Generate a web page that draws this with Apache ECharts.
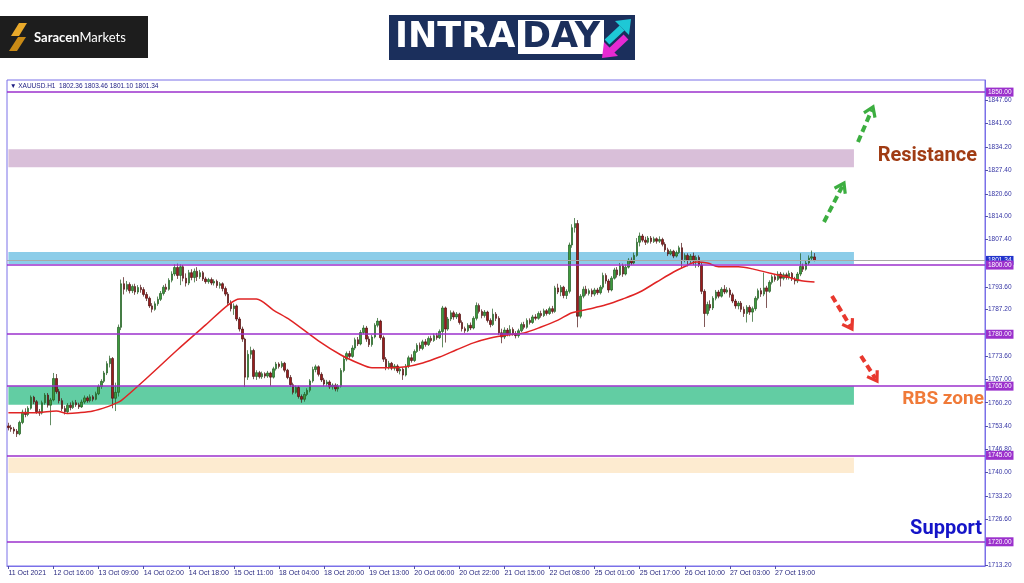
<!DOCTYPE html>
<html><head><meta charset="utf-8">
<script src="https://cdn.jsdelivr.net/npm/echarts@6/dist/echarts.min.js"></script>
<style>html,body{margin:0;padding:0;background:#fff;}#c{width:1024px;height:583px;}</style>
</head><body><div id="c"></div>
<script>
// ---- data ----
const xLabels = ['11 Oct 2021','12 Oct 16:00','13 Oct 09:00','14 Oct 02:00','14 Oct 18:00','15 Oct 11:00','18 Oct 04:00','18 Oct 20:00','19 Oct 13:00','20 Oct 06:00','20 Oct 22:00','21 Oct 15:00','22 Oct 08:00','25 Oct 01:00','25 Oct 17:00','26 Oct 10:00','27 Oct 03:00','27 Oct 19:00'];
const barsPerLabel = 16;
const slotCount = 347;
const yTicks = [1847.6,1841.0,1834.2,1827.4,1820.6,1814.0,1807.4,1793.6,1787.2,1773.6,1767.0,1760.2,1753.4,1746.8,1740.0,1733.2,1726.6,1713.2];
const levels = [1850, 1800, 1780, 1765, 1745, 1720];
const bidPrice = 1801.34;
const zoneRanges = [[1833.5,1828.3],[1803.8,1800.3],[1765.0,1759.6],[1744.3,1739.9]];
const zoneEndIndex = 300;
// [open, close, low, high]
const ohlc = [
[1753.5,1753.0,1752.2,1754.4],[1753.0,1752.6,1751.8,1753.8],[1752.6,1752.0,1751.2,1753.2],[1752.0,1751.2,1750.3,1752.6],[1751.2,1754.5,1750.8,1755.0],
[1754.5,1757.5,1754.0,1758.2],[1757.5,1756.8,1756.0,1758.6],[1756.8,1758.6,1756.3,1759.2],[1758.6,1761.8,1758.2,1762.3],[1761.8,1760.5,1759.8,1762.2],
[1760.5,1757.6,1757.0,1761.0],[1757.6,1757.2,1756.4,1758.4],[1757.2,1760.2,1756.8,1760.8],[1760.2,1762.4,1759.6,1763.0],[1762.4,1759.5,1758.8,1763.0],
[1759.5,1761.0,1753.7,1761.6],[1761.0,1767.2,1760.6,1768.8],[1767.2,1763.4,1762.8,1768.5],[1763.4,1760.8,1760.0,1764.2],[1760.8,1758.5,1757.8,1761.5],
[1758.5,1757.6,1756.8,1759.3],[1757.6,1759.5,1757.2,1760.1],[1759.5,1758.8,1758.0,1760.3],[1758.8,1760.2,1758.4,1760.8],[1760.2,1759.6,1759.0,1761.0],
[1759.6,1759.0,1758.4,1760.2],[1759.0,1760.4,1758.7,1761.1],[1760.4,1761.6,1759.9,1762.3],[1761.6,1760.8,1760.2,1762.1],[1760.8,1761.9,1760.3,1762.6],
[1761.9,1761.2,1760.6,1762.4],[1761.2,1762.8,1760.9,1763.4],[1762.8,1764.9,1762.4,1765.5],[1764.9,1766.4,1764.2,1767.0],[1766.4,1768.8,1765.9,1769.4],
[1768.8,1771.5,1768.2,1772.2],[1771.5,1773.0,1770.4,1773.8],[1773.0,1761.5,1758.6,1773.4],[1761.5,1763.2,1757.8,1766.0],[1763.2,1782.0,1762.0,1782.8],
[1782.0,1794.6,1781.2,1795.8],[1794.6,1793.0,1791.5,1796.5],[1793.0,1794.4,1792.3,1795.4],[1794.4,1792.6,1791.8,1795.0],[1792.6,1793.8,1791.9,1794.4],
[1793.8,1792.2,1791.4,1794.6],[1792.2,1793.5,1791.6,1794.2],[1793.5,1792.9,1792.0,1794.3],[1792.9,1791.5,1790.9,1793.6],[1791.5,1790.4,1789.6,1792.2],
[1790.4,1788.2,1787.6,1790.9],[1788.2,1787.2,1786.3,1789.0],[1787.2,1788.8,1786.8,1789.5],[1788.8,1790.1,1788.2,1790.9],[1790.1,1791.8,1789.6,1792.5],
[1791.8,1793.6,1791.2,1794.2],[1793.6,1793.0,1792.2,1794.6],[1793.0,1795.6,1792.6,1796.2],[1795.6,1797.4,1795.0,1798.2],[1797.4,1799.3,1796.8,1800.2],
[1799.3,1797.0,1796.0,1800.4],[1797.0,1799.5,1794.2,1800.2],[1799.5,1796.2,1795.3,1800.0],[1796.2,1794.8,1793.8,1797.6],[1794.8,1797.8,1794.2,1798.6],
[1797.8,1796.4,1795.6,1798.8],[1796.4,1798.2,1795.0,1799.0],[1798.2,1796.6,1795.4,1799.4],[1796.6,1797.8,1796.0,1798.6],[1797.8,1796.0,1795.4,1798.3],
[1796.0,1795.2,1794.6,1796.6],[1795.2,1795.8,1794.6,1796.3],[1795.8,1794.8,1794.2,1796.4],[1794.8,1795.3,1794.1,1795.9],[1795.3,1794.1,1793.4,1795.8],
[1794.1,1794.6,1793.2,1795.1],[1794.6,1793.2,1792.4,1795.0],[1793.2,1791.6,1791.0,1793.8],[1791.6,1789.0,1788.4,1792.2],[1789.0,1787.4,1786.6,1789.8],
[1787.4,1788.2,1785.6,1788.9],[1788.2,1784.4,1783.8,1788.6],[1784.4,1781.5,1780.8,1785.0],[1781.5,1778.6,1777.8,1782.2],[1778.6,1767.6,1764.8,1779.0],
[1767.6,1774.2,1766.8,1775.4],[1774.2,1775.3,1772.9,1776.4],[1775.3,1767.8,1767.0,1775.8],[1767.8,1768.9,1766.8,1769.6],[1768.9,1767.7,1767.2,1769.4],
[1767.7,1768.6,1767.1,1769.2],[1768.6,1767.9,1767.3,1769.0],[1767.9,1768.8,1767.4,1769.4],[1768.8,1767.6,1765.0,1769.2],[1767.6,1770.0,1767.2,1770.6],
[1770.0,1771.4,1769.5,1772.0],[1771.4,1770.7,1770.1,1771.9],[1770.7,1771.6,1770.2,1772.2],[1771.6,1769.6,1769.0,1772.0],[1769.6,1767.5,1767.0,1770.0],
[1767.5,1765.4,1764.8,1768.2],[1765.4,1763.2,1762.6,1766.0],[1763.2,1764.6,1762.8,1765.2],[1764.6,1762.0,1761.4,1765.1],[1762.0,1761.2,1760.2,1762.6],
[1761.2,1762.6,1760.5,1763.3],[1762.6,1763.8,1762.1,1764.4],[1763.8,1766.5,1763.2,1767.0],[1766.5,1769.8,1766.0,1770.6],[1769.8,1770.6,1769.0,1771.2],
[1770.6,1768.4,1767.8,1771.0],[1768.4,1766.8,1766.2,1769.0],[1766.8,1765.6,1765.0,1767.4],[1765.6,1766.2,1765.0,1766.8],[1766.2,1764.8,1764.2,1766.7],
[1764.8,1765.3,1764.0,1765.8],[1765.3,1764.2,1763.5,1765.8],[1764.2,1765.0,1763.4,1765.6],[1765.0,1769.5,1764.6,1770.2],[1769.5,1772.8,1769.0,1773.4],
[1772.8,1774.4,1772.2,1775.0],[1774.4,1773.6,1773.0,1775.2],[1773.6,1776.0,1773.2,1776.8],[1776.0,1778.4,1775.4,1779.0],[1778.4,1777.2,1776.6,1779.2],
[1777.2,1780.5,1776.8,1781.2],[1780.5,1781.8,1780.0,1782.6],[1781.8,1778.6,1777.8,1782.4],[1778.6,1777.0,1776.3,1779.4],[1777.0,1779.2,1776.4,1779.8],
[1779.2,1782.6,1778.8,1783.2],[1782.6,1783.8,1782.0,1784.7],[1783.8,1779.0,1778.4,1784.2],[1779.0,1772.8,1772.0,1779.6],[1772.8,1770.4,1769.6,1773.4],
[1770.4,1771.6,1769.8,1772.3],[1771.6,1770.2,1769.6,1772.0],[1770.2,1770.8,1769.5,1771.4],[1770.8,1769.4,1768.8,1771.3],[1769.4,1769.9,1768.4,1770.5],
[1769.9,1768.2,1766.8,1770.4],[1768.2,1770.8,1767.8,1771.4],[1770.8,1773.2,1770.2,1773.8],[1773.2,1772.4,1771.8,1774.2],[1772.4,1775.0,1772.0,1775.6],
[1775.0,1776.8,1774.6,1777.4],[1776.8,1775.9,1775.2,1777.6],[1775.9,1777.8,1775.4,1778.4],[1777.8,1777.0,1776.4,1778.6],[1777.0,1778.8,1776.6,1779.4],
[1778.8,1778.2,1777.6,1779.6],[1778.2,1779.6,1777.8,1780.2],[1779.6,1779.0,1778.4,1780.4],[1779.0,1780.8,1778.6,1781.4],[1780.8,1787.6,1776.2,1788.2],
[1787.6,1781.5,1777.6,1788.0],[1781.5,1784.4,1781.0,1785.0],[1784.4,1786.2,1783.8,1786.9],[1786.2,1785.0,1784.2,1786.8],[1785.0,1785.8,1784.4,1786.4],
[1785.8,1783.4,1782.8,1786.2],[1783.4,1781.6,1780.8,1784.0],[1781.6,1781.0,1780.4,1782.2],[1781.0,1782.6,1780.6,1783.2],[1782.6,1781.8,1781.2,1783.4],
[1781.8,1784.6,1781.4,1785.2],[1784.6,1788.3,1784.0,1789.2],[1788.3,1786.6,1786.0,1788.9],[1786.6,1785.4,1784.6,1787.2],[1785.4,1786.4,1784.8,1787.0],
[1786.4,1784.0,1783.4,1786.8],[1784.0,1782.8,1782.0,1784.6],[1782.8,1785.8,1782.4,1787.4],[1785.8,1784.6,1783.8,1786.4],[1784.6,1780.4,1779.8,1785.2],
[1780.4,1779.2,1777.4,1781.6],[1779.2,1781.2,1778.6,1782.0],[1781.2,1780.0,1779.4,1781.8],[1780.0,1781.4,1779.4,1782.6],[1781.4,1780.2,1779.6,1782.0],
[1780.2,1779.6,1778.8,1780.9],[1779.6,1781.0,1779.0,1781.6],[1781.0,1782.8,1780.6,1783.4],[1782.8,1782.0,1781.4,1783.6],[1782.0,1784.0,1781.6,1784.6],
[1784.0,1783.4,1782.8,1784.6],[1783.4,1785.0,1783.0,1785.6],[1785.0,1784.6,1784.0,1785.8],[1784.6,1786.0,1784.2,1786.6],[1786.0,1785.4,1784.8,1786.8],
[1785.4,1786.8,1785.0,1787.4],[1786.8,1786.0,1785.4,1787.3],[1786.0,1787.4,1785.6,1788.0],[1787.4,1786.6,1786.0,1788.2],[1786.6,1793.4,1786.2,1794.0],
[1793.4,1792.2,1791.6,1794.6],[1792.2,1793.6,1791.0,1794.2],[1793.6,1791.2,1790.4,1794.0],[1791.2,1792.4,1790.2,1793.0],[1792.4,1805.8,1791.8,1806.5],
[1805.8,1810.8,1805.0,1811.8],[1810.8,1812.0,1809.4,1813.6],[1812.0,1785.2,1782.0,1813.0],[1785.2,1791.0,1784.6,1791.6],[1791.0,1793.0,1790.4,1793.8],
[1793.0,1791.8,1791.2,1794.0],[1791.8,1792.6,1791.2,1793.2],[1792.6,1791.6,1790.8,1793.2],[1791.6,1792.8,1791.0,1793.4],[1792.8,1792.0,1791.4,1793.4],
[1792.0,1793.6,1791.5,1794.2],[1793.6,1797.0,1793.0,1797.8],[1797.0,1795.4,1794.6,1797.6],[1795.4,1792.8,1792.0,1796.0],[1792.8,1796.2,1792.4,1796.8],
[1796.2,1798.6,1795.8,1799.2],[1798.6,1797.2,1796.4,1799.4],[1797.2,1799.8,1796.8,1800.6],[1799.8,1797.4,1796.6,1800.4],[1797.4,1799.4,1797.0,1800.2],
[1799.4,1801.4,1799.0,1802.0],[1801.4,1800.6,1800.0,1802.2],[1800.6,1802.8,1800.2,1803.6],[1802.8,1806.6,1802.4,1807.8],[1806.6,1808.4,1805.4,1809.4],
[1808.4,1807.2,1806.6,1809.0],[1807.2,1806.6,1805.8,1808.2],[1806.6,1807.8,1806.2,1808.4],[1807.8,1806.8,1806.2,1808.4],[1806.8,1807.6,1806.4,1808.2],
[1807.6,1806.9,1806.2,1808.0],[1806.9,1807.4,1806.4,1808.3],[1807.4,1806.0,1805.4,1807.9],[1806.0,1804.4,1803.8,1806.6],[1804.4,1803.2,1802.6,1805.0],
[1803.2,1804.0,1802.8,1804.6],[1804.0,1802.6,1802.0,1804.4],[1802.6,1803.6,1802.2,1804.2],[1803.6,1805.0,1803.2,1805.6],[1805.0,1801.6,1799.2,1806.4],
[1801.6,1802.8,1800.8,1803.4],[1802.8,1801.4,1799.6,1803.4],[1801.4,1802.6,1800.6,1803.2],[1802.6,1801.2,1800.0,1803.6],[1801.2,1802.2,1799.2,1802.8],
[1802.2,1800.0,1799.4,1802.8],[1800.0,1792.4,1791.6,1800.8],[1792.4,1786.0,1782.1,1793.0],[1786.0,1788.6,1785.4,1789.4],[1788.6,1787.6,1786.8,1789.8],
[1787.6,1790.4,1787.0,1791.0],[1790.4,1792.2,1789.8,1792.8],[1792.2,1791.0,1790.4,1792.8],[1791.0,1793.0,1790.6,1793.6],[1793.0,1792.2,1791.6,1794.2],
[1792.2,1792.8,1791.8,1793.6],[1792.8,1791.4,1790.6,1793.4],[1791.4,1789.6,1789.0,1792.0],[1789.6,1788.2,1787.4,1790.2],[1788.2,1789.0,1787.2,1789.6],
[1789.0,1787.2,1786.4,1789.6],[1787.2,1786.0,1785.0,1788.0],[1786.0,1787.8,1783.4,1788.4],[1787.8,1786.4,1785.6,1788.4],[1786.4,1787.4,1783.6,1788.0],
[1787.4,1790.4,1786.8,1791.0],[1790.4,1792.6,1789.8,1793.2],[1792.6,1791.6,1790.8,1793.4],[1791.6,1793.4,1791.0,1797.8],[1793.4,1792.4,1787.6,1794.0],
[1792.4,1795.0,1792.0,1795.6],[1795.0,1796.6,1794.4,1797.2],[1796.6,1795.8,1795.2,1797.4],[1795.8,1797.4,1795.4,1798.2],[1797.4,1796.2,1793.8,1798.0],
[1796.2,1797.2,1795.6,1797.8],[1797.2,1796.4,1795.8,1797.8],[1796.4,1797.6,1795.8,1798.4],[1797.6,1796.0,1795.4,1798.0],[1796.0,1795.4,1794.4,1796.6],
[1795.4,1797.4,1794.8,1798.0],[1797.4,1799.6,1796.8,1803.4],[1799.6,1798.8,1798.0,1800.4],[1798.8,1800.6,1798.4,1801.2],[1800.6,1802.0,1800.0,1802.8],
[1802.0,1802.4,1801.2,1804.2],[1802.36,1801.34,1801.10,1803.46]
];
// moving average read at sample bars: [barIndex, value]
const maPoints = [[0,1757.3],[4,1757.3],[11,1757.4],[17,1757.8],[21,1757.1],[25,1757.3],[30,1757.8],[35,1759.0],[38,1760.0],[40,1760.8],[50,1768.0],[60,1775.5],[70,1782.7],[78,1788.5],[82,1790.2],[88,1790.2],[94,1787.0],[100,1784.1],[110,1778.1],[118,1774.0],[124,1771.7],[129,1770.3],[135,1770.3],[141,1770.6],[147,1771.7],[153,1773.4],[159,1775.5],[165,1777.5],[171,1778.9],[177,1779.8],[183,1780.4],[189,1782.1],[195,1784.1],[200,1786.2],[206,1787.3],[212,1788.5],[218,1790.2],[224,1792.2],[230,1795.1],[236,1798.0],[240,1799.6],[244,1800.9],[248,1800.6],[252,1799.5],[259,1799.5],[264,1798.9],[270,1797.7],[276,1796.6],[282,1795.4],[286,1795.1]];

// ---- chart ----
const categories = Array.from({length: slotCount}, (_, i) => String(i));
const zoneColors = ['#d9bfd9', '#8ccde9', '#62cda3', '#fdebd0'];
const frameColor = '#7a70e8';
const levelColor = '#9b30cc';
const isLabelIdx = (i) => i % barsPerLabel === 0 && (i / barsPerLabel) < xLabels.length;

const chart = echarts.init(document.getElementById('c'), null, {renderer: 'canvas'});

function chevron(tip, from, len, half) {
  const dx = tip[0] - from[0], dy = tip[1] - from[1];
  const d = Math.hypot(dx, dy), ux = dx / d, uy = dy / d;
  const bx = tip[0] - len * ux, by = tip[1] - len * uy;
  return [[bx - half * uy, by + half * ux], tip, [bx + half * uy, by - half * ux]];
}
function arrow(from, tip, color) {
  const dx = tip[0] - from[0], dy = tip[1] - from[1];
  const d = Math.hypot(dx, dy);
  const end = [tip[0] - 3 * dx / d, tip[1] - 3 * dy / d];
  return [
    {type: 'polyline', shape: {points: [from, end]}, style: {stroke: color, lineWidth: 4, lineDash: [7, 4], fill: null}},
    {type: 'polyline', shape: {points: chevron(tip, from, 9, 6)}, style: {stroke: color, lineWidth: 3.2, fill: null}}
  ];
}

const graphics = [
  // Saracen Markets logo
  {type: 'rect', shape: {x: 0, y: 16, width: 148, height: 42}, style: {fill: '#1d1d1d'}},
  {type: 'polygon', shape: {points: [[19, 23], [27, 23], [19, 36], [11, 36]]}, style: {fill: '#e9a92a'}},
  {type: 'polygon', shape: {points: [[18, 37], [26, 37], [17, 51], [9, 51]]}, style: {fill: '#c98a16'}},
  {type: 'text', x: 34, y: 38, style: {text: '{b|Saracen}{r|Markets}', verticalAlign: 'middle',
    rich: {b: {fontSize: 13, fontWeight: 'bold', fill: '#ffffff', fontFamily: 'Lato'}, r: {fontSize: 13, fill: '#ffffff', fontFamily: 'Lato'}}}},
  // INTRADAY logo
  {type: 'rect', shape: {x: 389, y: 15, width: 246, height: 45}, style: {fill: '#1b2f5c'}},
  {type: 'rect', shape: {x: 518, y: 20, width: 86, height: 34}, style: {fill: '#ffffff'}},
  {type: 'text', x: 395, y: 38, style: {text: 'INTRA', fontSize: 35, fontWeight: 'bold', fontFamily: 'DejaVu Sans', fill: '#ffffff', verticalAlign: 'middle'}},
  {type: 'text', x: 561, y: 38, style: {text: 'DAY', fontSize: 35, fontWeight: 'bold', fontFamily: 'DejaVu Sans', fill: '#1b2f5c', align: 'center', verticalAlign: 'middle'}},
  {type: 'polyline', shape: {points: [[607, 42], [622, 28]]}, style: {stroke: '#1ec8d6', lineWidth: 7, fill: null}},
  {type: 'polygon', shape: {points: [[631, 19], [615, 21], [629, 35]]}, style: {fill: '#1ec8d6'}},
  {type: 'polyline', shape: {points: [[626, 37], [611, 51]]}, style: {stroke: '#e62ad2', lineWidth: 7, fill: null}},
  {type: 'polygon', shape: {points: [[602, 58], [604, 42], [618, 56]]}, style: {fill: '#e62ad2'}},
  // chart header
  {type: 'text', x: 10, y: 86, style: {text: '\u25BC XAUUSD.H1  1802.36 1803.46 1801.10 1801.34', fontSize: 6.5, fontFamily: 'Liberation Sans', fill: '#1a1a80', verticalAlign: 'middle'}},
  // annotations
  {type: 'text', x: 977, y: 156, style: {text: 'Resistance', fontSize: 20, fontWeight: 'bold', fontFamily: 'Roboto', fill: '#a03c14', align: 'right', verticalAlign: 'middle'}},
  {type: 'text', x: 984, y: 399, style: {text: 'RBS zone', fontSize: 19, fontWeight: 'bold', fontFamily: 'Roboto', fill: '#f07a38', align: 'right', verticalAlign: 'middle'}},
  {type: 'text', x: 982, y: 529, style: {text: 'Support', fontSize: 20, fontWeight: 'bold', fontFamily: 'Roboto', fill: '#1414c8', align: 'right', verticalAlign: 'middle'}}
].concat(
  arrow([824, 222], [844, 183], '#3cae40'),
  arrow([858, 142], [873, 107], '#3cae40'),
  arrow([832, 296], [852, 329], '#e8382e'),
  arrow([861, 356], [877, 381], '#e8382e')
);

const option = {
  animation: false,
  backgroundColor: '#ffffff',
  grid: {left: 7, right: 39, top: 80, bottom: 17, show: true, borderColor: frameColor, borderWidth: 1},
  xAxis: {
    type: 'category', data: categories, boundaryGap: true,
    axisLine: {show: true, lineStyle: {color: frameColor}},
    axisTick: {show: true, alignWithLabel: true, interval: isLabelIdx, length: 3, lineStyle: {color: '#5050a8'}},
    axisLabel: {interval: isLabelIdx, formatter: (v, i) => xLabels[i / barsPerLabel] || '', align: 'left',
      color: '#2a2a80', fontSize: 7, fontFamily: 'Liberation Sans', margin: 4},
    splitLine: {show: false}
  },
  yAxis: {
    type: 'value', position: 'right', min: 1713.0, max: 1853.5,
    axisLine: {show: true, lineStyle: {color: frameColor}},
    axisTick: {show: true, customValues: yTicks, length: 3, lineStyle: {color: '#5050a8'}},
    axisLabel: {customValues: yTicks, formatter: (v) => Number(v).toFixed(2), color: '#3434a4', fontSize: 6.5, fontFamily: 'Liberation Sans', margin: 3},
    splitLine: {show: false}
  },
  series: [
    {
      type: 'candlestick', data: ohlc, barWidth: 2, z: 3,
      itemStyle: {color: '#3d9b3d', color0: '#9b1c1c', borderColor: '#1f5a1f', borderColor0: '#4a1010', borderWidth: 0.7},
      markArea: {
        silent: true,
        data: zoneRanges.map((r, k) => [
          {xAxis: 0, yAxis: r[0], itemStyle: {color: zoneColors[k], opacity: 1}},
          {xAxis: zoneEndIndex, yAxis: r[1]}
        ])
      },
      markLine: {
        silent: true, symbol: ['none', 'none'],
        lineStyle: {color: levelColor, width: 1.6, type: 'solid'},
        label: {show: true, position: 'end', distance: 1, formatter: (p) => Number(p.value).toFixed(2),
          color: '#ffffff', backgroundColor: levelColor, fontSize: 6.5, fontFamily: 'Liberation Sans', padding: [1, 2, 1, 2]},
        data: [{yAxis: bidPrice, lineStyle: {color: '#a8a8a8', width: 1}, label: {backgroundColor: '#2233cc'}}]
          .concat(levels.map(v => ({yAxis: v})))
      }
    },
    {
      type: 'line', data: maPoints, showSymbol: false, smooth: 0.3, z: 4,
      lineStyle: {color: '#e02424', width: 1.5}
    }
  ],
  graphic: {elements: graphics}
};
chart.setOption(option);
</script>
</body></html>
